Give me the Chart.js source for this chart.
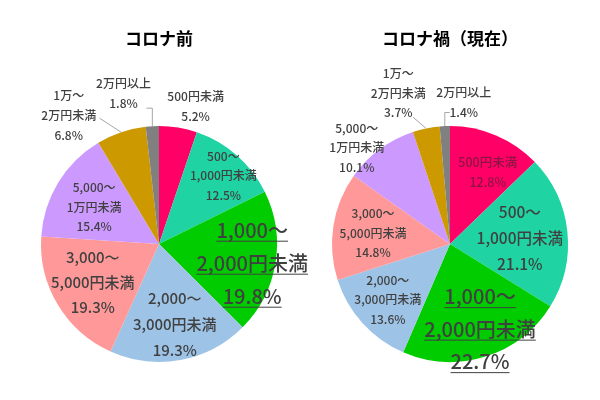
<!DOCTYPE html>
<html lang="ja">
<head>
<meta charset="utf-8">
<script src="https://cdn.jsdelivr.net/npm/chart.js@4"></script>
<style>
  html, body { margin: 0; padding: 0; background: #fff; }
  #wrap { position: relative; width: 600px; height: 400px; }
  #before-box { position: absolute; left: 0; top: 0; width: 330px; height: 400px; }
  #now-box { position: absolute; left: 300px; top: 0; width: 300px; height: 400px; }
</style>
</head>
<body>
<div id="wrap">
  <div id="before-box"><canvas id="before-chart"></canvas></div>
  <div id="now-box"><canvas id="now-chart"></canvas></div>
</div>
<script>
// 金額帯
const categories = [
    '500円未満',
    '500〜1,000円未満',
    '1,000〜2,000円未満',
    '2,000〜3,000円未満',
    '3,000〜5,000円未満',
    '5,000〜1万円未満',
    '1万〜2万円未満',
    '2万円以上'
];

// コロナ前 / コロナ禍（現在） の割合(%)
const beforeValues = [5.2, 12.5, 19.8, 19.3, 19.3, 15.4, 6.8, 1.8];
const nowValues = [12.8, 21.1, 22.7, 13.6, 14.8, 10.1, 3.7, 1.4];

const chartTitles = ['コロナ前', 'コロナ禍（現在）'];

const sliceColors = ['#FF0066', '#1FD3A2', '#00CC00', '#9DC3E6', '#FF9999', '#CC99FF', '#CC9900', '#808080'];

const FONT = '"Noto Sans CJK JP", "Noto Sans", sans-serif';

// ラベル配置（k: 半径に対する位置, dx/dy: 微調整）
const beforeLabelStyle = [
    { size: 12, lh: 20, k: 1.18, dx: 14, dy: 0 },
    { size: 12, lh: 19.5, k: 0.79, dx: 3, dy: 2 },
    { size: 20, lh: 33, k: 0.80, dx: 0, dy: 4, underline: true },
    { size: 15, lh: 26, k: 0.69, dx: 1, dy: 0 },
    { size: 15, lh: 25, k: 0.645, dx: -1, dy: -1 },
    { size: 12, lh: 19.5, k: 0.634, dx: -1, dy: 2 },
    { size: 12, lh: 20, k: 1.25, dx: -43, dy: 11, leader: { x: 31, y: 3 } },
    { size: 12, lh: 20, k: 1.28, dx: -27, dy: 0, leader: { x: 23, y: 15, elbow: true } }
];
const nowLabelStyle = [
    { size: 12.5, lh: 20, k: 0.69, dx: 6, dy: 3, color: '#8c1442' },
    { size: 15.5, lh: 26, k: 0.595, dx: 0, dy: 2 },
    { size: 20, lh: 32.5, k: 0.765, dx: 3, dy: -1, underline: true },
    { size: 12, lh: 19.5, k: 0.70, dx: -1, dy: 0 },
    { size: 12, lh: 19.5, k: 0.66, dx: 0, dy: 1 },
    { size: 12, lh: 19.5, k: 1.13, dx: -14, dy: 11 },
    { size: 12, lh: 19.5, k: 1.33, dx: -20, dy: 3, leader: { x: 15, y: 24 } },
    { size: 12, lh: 19.5, k: 1.2, dx: 20, dy: 0, leader: { x: -14, y: 10, elbow: true } }
];

// カテゴリ名を「〜」で改行
function splitName(name) {
    const i = name.indexOf('〜');
    if (i < 0) return [name];
    return [name.slice(0, i + 1), name.slice(i + 1)];
}

// スライスラベル描画プラグイン
const sliceLabelPlugin = {
    id: 'sliceLabels',
    afterDatasetsDraw(chart, args, opts) {
        const ctx = chart.ctx;
        const meta = chart.getDatasetMeta(0);
        const values = chart.data.datasets[0].data;
        meta.data.forEach((arc, i) => {
            const st = opts.styles[i];
            const p = arc.getProps(['x', 'y', 'startAngle', 'endAngle', 'outerRadius'], true);
            const mid = (p.startAngle + p.endAngle) / 2;
            const ax = p.x + Math.cos(mid) * p.outerRadius * st.k + st.dx;
            const ay = p.y + Math.sin(mid) * p.outerRadius * st.k + st.dy;
            const lines = splitName(chart.data.labels[i]).concat([values[i].toFixed(1) + '%']);

            ctx.save();
            // 引き出し線
            if (st.leader) {
                const sx = p.x + Math.cos(mid) * p.outerRadius;
                const sy = p.y + Math.sin(mid) * p.outerRadius;
                const ex = ax + st.leader.x;
                const ey = ay + st.leader.y;
                ctx.strokeStyle = '#a6a6a6';
                ctx.lineWidth = 1;
                ctx.beginPath();
                ctx.moveTo(sx, sy);
                if (st.leader.elbow) ctx.lineTo(sx, ey);
                ctx.lineTo(ex, ey);
                ctx.stroke();
            }
            ctx.font = '500 ' + st.size + 'px ' + FONT;
            ctx.fillStyle = st.color || '#404040';
            ctx.strokeStyle = st.color || '#404040';
            ctx.textAlign = 'center';
            ctx.textBaseline = 'middle';
            const y0 = ay - (lines.length - 1) * st.lh / 2;
            lines.forEach((t, j) => {
                const y = y0 + j * st.lh;
                ctx.fillText(t, ax, y);
                if (st.underline) {
                    const w = ctx.measureText(t).width;
                    ctx.lineWidth = 1;
                    ctx.beginPath();
                    ctx.moveTo(ax - w / 2, y + st.size * 0.55);
                    ctx.lineTo(ax + w / 2, y + st.size * 0.55);
                    ctx.stroke();
                }
            });
            ctx.restore();
        });
    }
};

function makePie(canvasId, title, values, styles, padding) {
    const ctx = document.getElementById(canvasId).getContext('2d');
    return new Chart(ctx, {
        type: 'pie',
        data: {
            labels: categories,
            datasets: [{
                data: values,
                backgroundColor: sliceColors,
                borderWidth: 0
            }]
        },
        options: {
            responsive: true,
            maintainAspectRatio: false,
            animation: false,
            layout: { padding: padding },
            plugins: {
                legend: { display: false },
                tooltip: { enabled: false },
                title: {
                    display: true,
                    text: title,
                    color: '#000',
                    font: { family: FONT, size: 17, weight: 'bold', lineHeight: 1.2 },
                    padding: { top: 8, bottom: 77.6 }
                },
                sliceLabels: { styles: styles }
            }
        },
        plugins: [sliceLabelPlugin]
    });
}

makePie('before-chart', chartTitles[0], beforeValues, beforeLabelStyle, { left: 41, right: 53, top: 20, bottom: 38 });
makePie('now-chart', chartTitles[1], nowValues, nowLabelStyle, { left: 32, right: 32, top: 20, bottom: 38 });
</script>
</body>
</html>
